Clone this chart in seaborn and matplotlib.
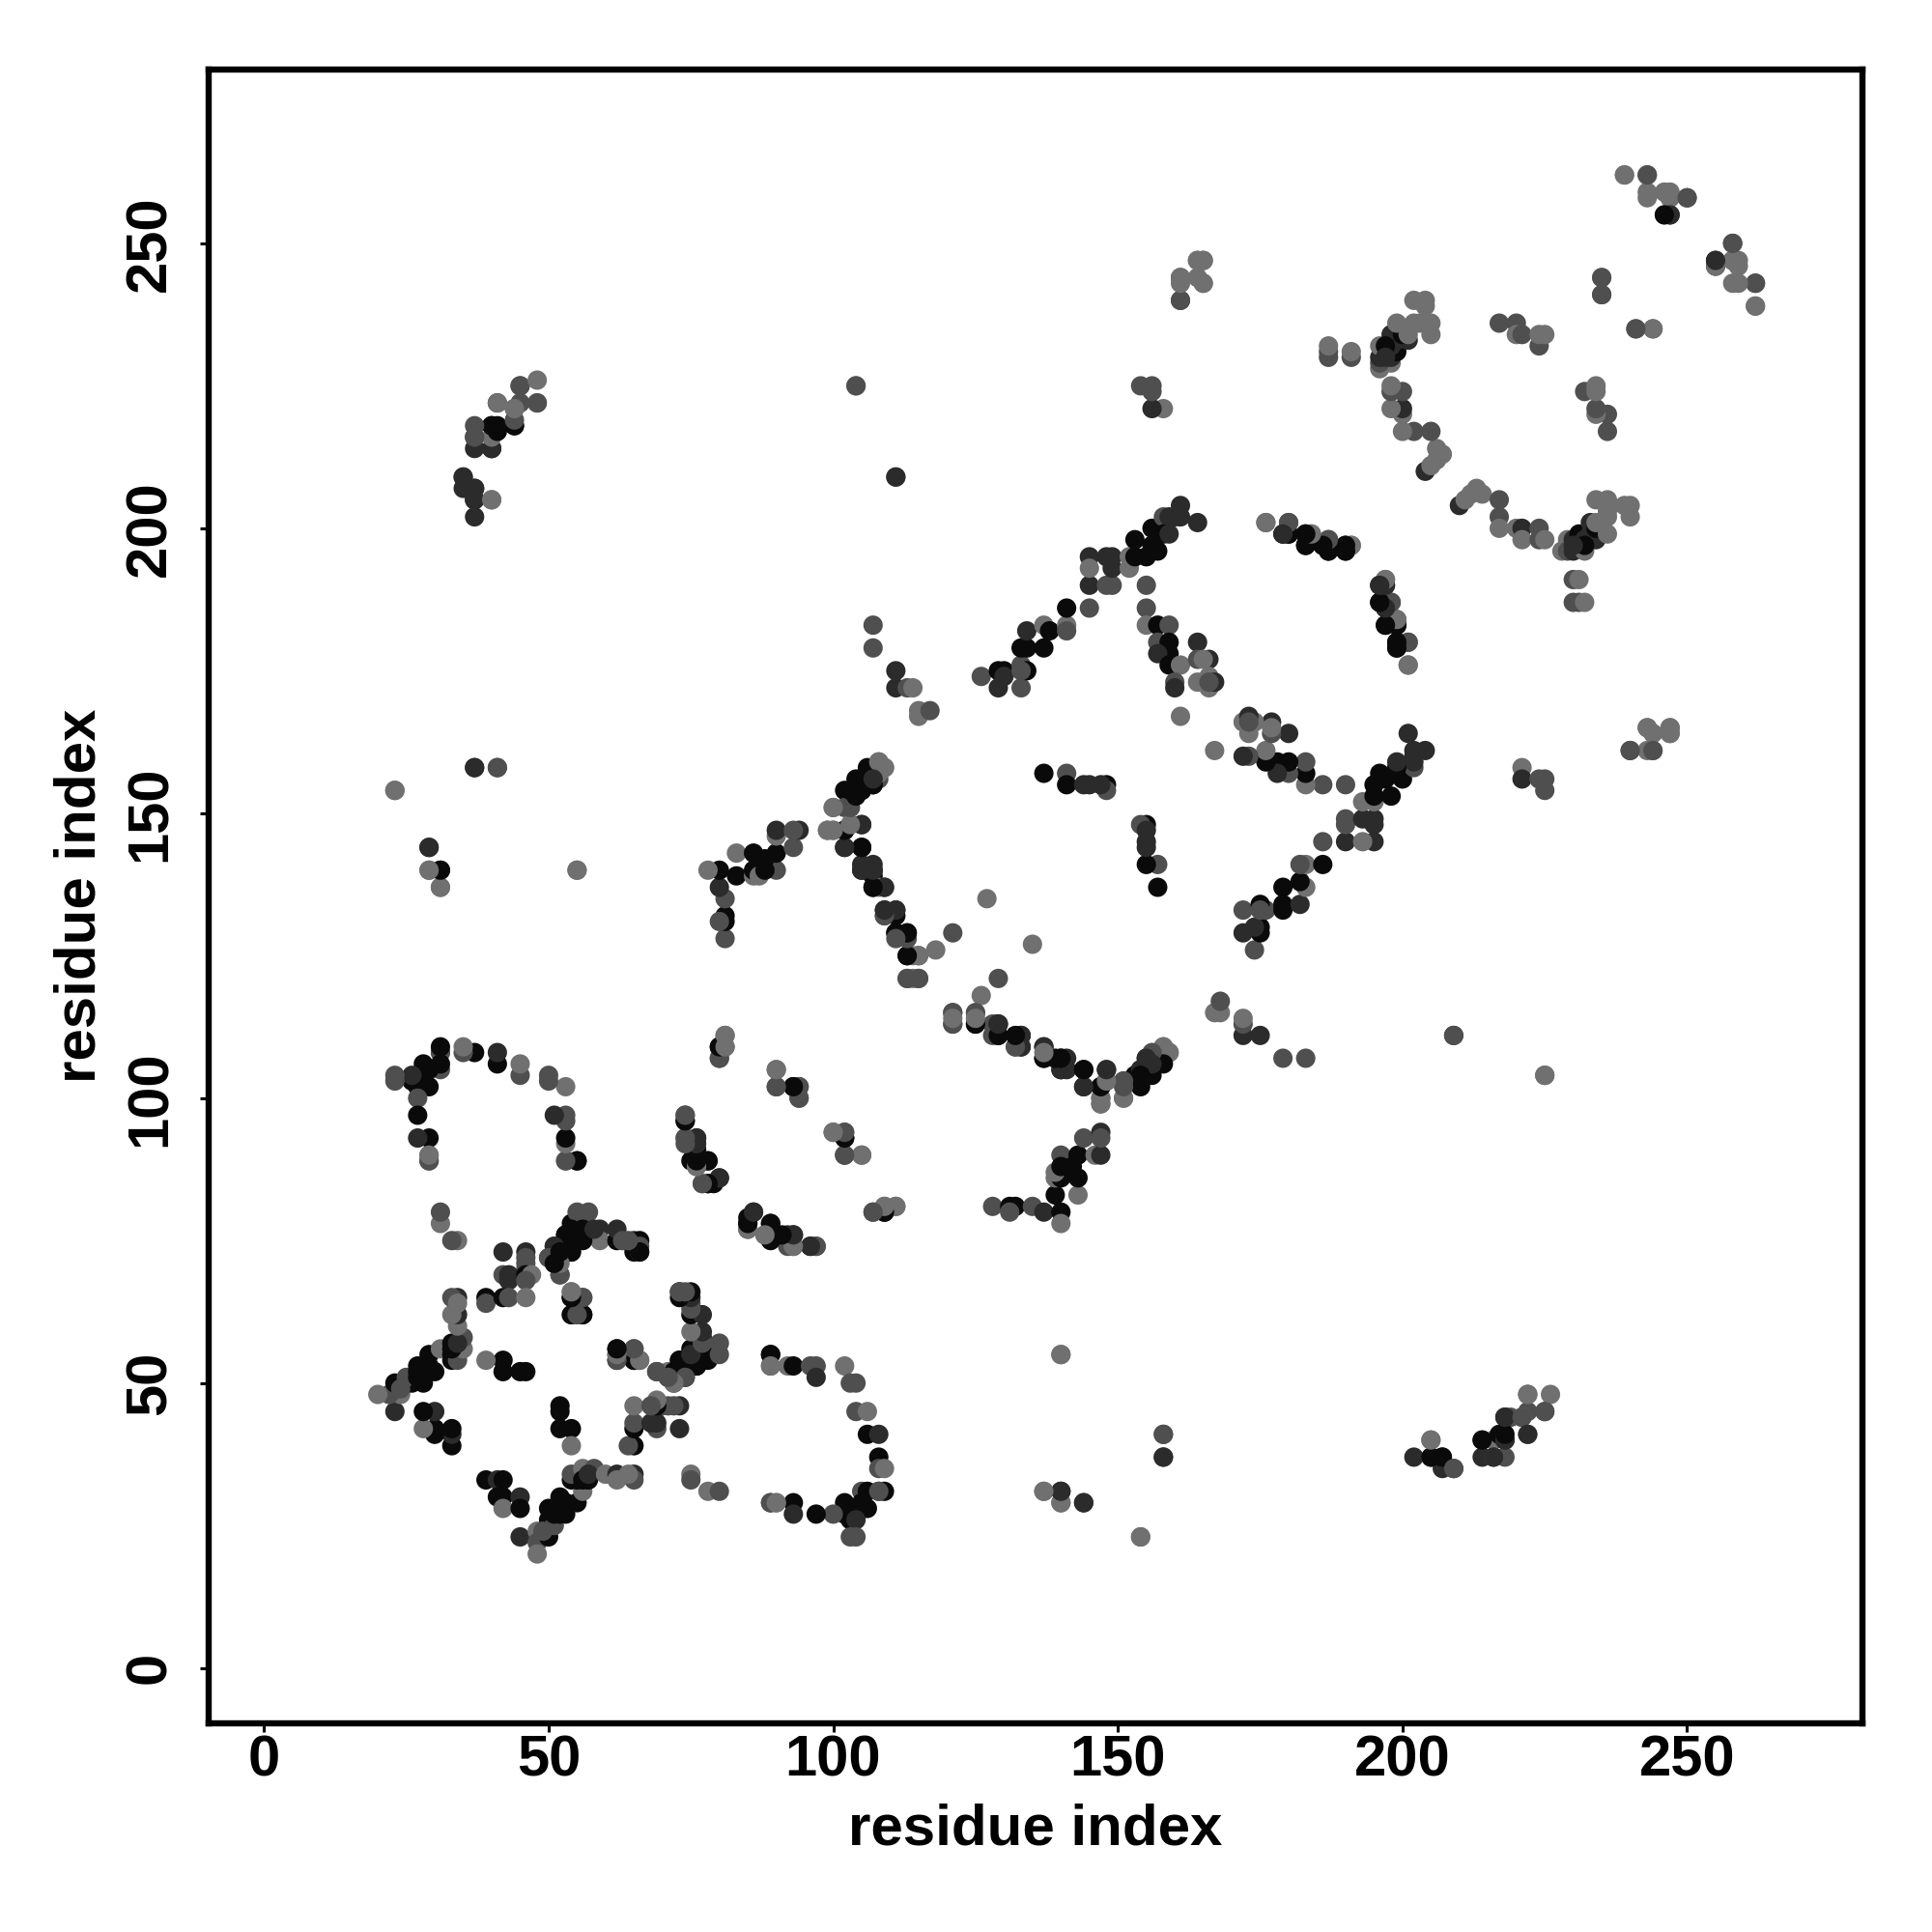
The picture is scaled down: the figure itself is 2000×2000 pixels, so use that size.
import matplotlib
matplotlib.use("Agg")
import matplotlib.pyplot as plt
import pandas as pd
import seaborn as sns

k, d, m, g = "black", "dark", "mid", "light"
shade_colors = {k: "#0a0a0a", d: "#2b2b2b", m: "#4f4f4f", g: "#707070"}

# contacts (residue a, residue b, shade); the map is symmetric
near_bottom = [(39,33,k),(41,33,d),(42,33,k),(41,30,k),(42,30,k),(42,28,g),(45,30,d),(45,28,k),(45,23,d),
 (48,24,g),(48,22,m),(48,20,g),(50,28,k),(50,26,k),(50,23,k),(49,24,m),(51,25,m),(52,30,k),(53,27,k),(52,27,k),
 (51,27,k),(53,29,k),(54,33,k),(55,29,k),(56,31,g),(55,33,k),(54,34,m),(57,33,k),(56,35,g),(58,35,m),(56,33,k),
 (57,34,d),(60,34,g),(62,34,d),(62,33,g),(65,34,d),(65,33,m),(64,34,g)]
near_mid = [(52,42,k),(52,45,k),(52,46,k),(54,42,k),(54,39,g),(65,39,k),(64,39,m),(65,42,k),(65,43,m),(65,46,g),
 (54,65,k),(54,66,g),(56,65,m),(54,62,m),(55,62,g),(56,62,k),(62,56,k),(62,54,k),(62,55,m),(65,56,m),(65,54,k),(66,54,g),
 (42,73,d),(46,73,d),(46,72,m),(46,71,m),(46,70,m),(42,69,m),(43,69,d),(43,68,d),(46,69,k),(47,69,g),(46,68,m)]
cluster_upper = [(54,78,k),(56,78,k),(53,76,k),(54,75,k),(55,76,k),(52,74,k),(54,73,k),(52,72,k),(51,73,k),(54,74,k),(53,74,k),
 (55,75,d),(55,80,m),(57,80,m),(57,77,m),(59,77,d),(59,75,g),(62,75,k),(62,77,d),(63,75,m),
 (65,75,d),(66,75,k),(65,73,k),(66,73,m),(66,74,m),(51,74,m),(50,72,g),(51,71,m),(52,69,m)]
cluster_right = [(73,66,k),(75,64,m),(75,56,k),(73,54,k),(75,54,k),(76,53,k),(74,53,k),(72,52,k),(74,51,d),(69,52,m),
 (71,52,g),(72,50,m),(71,51,k),(73,52,k),(76,55,k),(77,56,k),(77,54,k),(77,58,d)]
arc_89 = [(89,55,k),(89,53,m),(92,53,g),(93,53,k),(96,53,m),(97,53,m),(97,51,d),(102,53,g),(103,50,m),(104,50,m),
 (104,45,m),(106,45,g),(106,41,k),(108,41,d),(108,37,k),(108,35,m),(109,35,g),(108,31,m),(109,31,k),(105,31,m),
 (106,31,k),(102,29,k),(105,29,k),(106,28,k),(102,27,k),(103,26,k),(104,28,k),(104,26,d),(100,27,m),(97,27,k),
 (93,29,k),(93,27,d),(89,29,m),(90,29,g),(103,23,m),(104,23,m),(75,34,g),(75,33,m),(78,31,g),(80,31,m),
 (29,89,m),(29,90,g),(55,89,k),(53,89,g)]
arc_74 = [(74,97,m),(74,96,d),(74,93,g),(76,93,d),(76,91,k),(75,89,k),(78,89,k),(76,88,g),(77,85,g),(78,85,k),(79,85,k),
 (80,86,d),(86,80,d),(85,78,k),(85,77,m),(89,78,k),(88,76,g),(89,76,k),(92,76,d),(93,76,d),(92,74,m),(93,74,m),(96,74,k),
 (97,74,m),(107,80,m),(109,80,k),(109,81,g),(111,81,g),(81,111,g),(80,109,k),(81,109,g),(80,107,m),(90,105,g),(90,102,m),
 (93,102,k),(94,102,m),(94,100,g),(100,94,m),(102,94,m),(102,93,k),(102,90,m),(105,90,g)]
band_128 = [(128,81,m),(131,81,k),(132,81,k),(131,80,m),(135,81,m),(137,80,d),(140,80,k),(140,78,g),(139,83,k),(143,83,g),
 (139,86,g),(140,86,k),(143,86,k),(140,90,m),(143,90,k),(146,90,g),(147,90,d),(144,93,m),(147,94,d),(147,93,m),(139,87,g),
 (140,88,k),(142,88,k)]
band_121 = [(121,115,m),(121,113,m),(125,115,g),(125,113,k),(126,118,g),(129,121,m),(128,113,m),(129,113,k),(129,111,k),(133,111,d),
 (132,109,m),(133,109,d),(137,109,d),(137,107,k),(140,107,d),(141,107,d),(140,105,d),(141,105,d),(144,105,k),(148,105,d),
 (144,102,d),(147,102,k),(148,103,g),(147,100,g),(147,99,g),(151,103,m),(151,100,g),(154,105,k),(154,103,k),(153,104,k),
 (155,107,k),(156,105,k),(157,108,g),(158,107,k),(158,109,g),(159,108,g),(156,107,d),(113,125,k),(115,125,m),(114,125,g),
 (113,121,m),(115,121,m),(114,121,g),(135,127,g),(128,111,m)]
isolated = [(140,55,g),(158,41,m),(158,37,d),(137,31,g),(140,31,k),(140,29,g),(144,29,d),(154,23,g),(104,225,g),(111,209,m),
 (209,111,d),(225,104,m),(157,137,k),(157,141,m),(155,141,k),(155,144,d),(155,145,d),(155,148,k),(154,148,m),(155,147,d)]
arc_202 = [(202,37,d),(205,37,d),(205,40,g),(207,37,d),(207,35,d),(209,35,d),(214,37,d),(214,40,d),(216,40,g),(216,37,m),
 (218,40,k),(218,44,k),(219,44,m),(222,48,m),(222,41,g),(222,45,m),(225,45,m),(226,48,g),(218,37,m),(221,44,g),(217,41,k),
 (37,205,k),(37,207,k),(37,216,d),(40,214,k),(40,218,d),(41,218,k),(44,218,d),(44,221,m),(41,222,d),(45,225,m),(48,222,g),(40,205,g),(35,209,m)]
band_upper = [(107,183,m),(107,179,m),(111,175,d),(111,172,d),(113,172,m),(114,172,g),(115,168,g),(115,167,g),(117,168,m),
 (126,174,m),(129,175,k),(129,172,d),(130,175,k),(130,174,d),(133,176,m),(133,172,m),(134,175,k),(133,175,m),(133,179,k),
 (134,179,k),(134,182,d),(137,179,k),(137,183,g),(138,182,k),(141,183,g),(141,182,m),(141,186,k),(145,186,m),(145,190,d),
 (148,190,m),(149,190,m),(145,195,d),(145,193,g),(148,195,d),(149,195,d),(149,193,d),(152,195,g),(152,193,g),(153,198,k),
 (155,195,k),(153,195,k),(156,200,k),(156,197,k),(157,196,k),(158,202,m),(159,202,d),(158,199,k),(160,202,d),(161,204,d),
 (161,202,d),(164,201,d),(159,199,d)]
band_155 = [(155,190,m),(155,186,m),(155,183,g),(157,183,k),(159,183,m),(157,180,m),(159,180,k),(159,178,k),(157,178,d),(159,176,k),
 (161,176,g),(160,173,m),(160,172,d),(161,167,g),(164,180,d),(164,177,m),(166,177,d),(165,177,g),(164,173,g),(166,174,g),
 (166,172,g),(167,173,d),(166,173,m),(161,240,m),(161,244,m),(164,247,g),(165,247,g),(165,243,g)]
arc_105 = [(108,159,g),(109,158,g),(106,158,k),(108,156,m),(104,156,k),(106,156,d),(107,155,d),(102,154,k),(105,154,d),(104,154,k),
 (103,151,m),(100,151,g),(102,151,m),(99,147,g),(100,147,g),(102,147,k),(103,148,g),(105,148,d),(102,144,d),(105,144,k),
 (105,140,d),(107,140,k),(107,139,k),(107,137,k),(109,137,d),(108,137,g),(109,133,d),(111,133,d),(109,132,m),(111,132,k),
 (111,129,k),(113,129,d)]
contacts_far = [(23,154,g),(29,144,d),(29,140,g),(31,140,d),(31,137,g),(37,158,d),(41,158,m),(55,140,g),(31,108,m)]
arc_176 = [(176,201,g),(180,201,m),(179,199,k),(180,199,k),(183,199,k),(184,199,g),(183,197,k),(187,198,m),(186,197,d),(187,196,k),
 (190,197,d),(191,197,g),(190,196,d),(197,191,g),(196,190,k),(197,190,k),(196,187,k),(198,187,m),(197,186,k),(197,183,k),
 (199,184,g),(199,183,k),(199,180,k),(201,180,m),(199,179,d),(201,176,g)]
arc_210 = [(210,204,d),(211,205,g),(213,207,g),(214,206,g),(212,206,g),(217,205,m),(217,202,m),(217,200,g),(220,200,g),(221,200,d),
 (221,198,g),(224,200,m),(224,198,m),(225,198,g),(228,196,g),(229,198,g),(229,196,m),(230,196,d),(232,196,g),(230,198,d),
 (231,199,k),(232,198,d),(233,201,d),(234,198,d),(233,199,d),(234,200,k),(232,197,k),(230,197,d),(234,201,g),(236,199,g),(236,205,g),
 (236,203,g),(234,205,g),(236,202,g),(239,204,g),(240,204,g),(240,202,g),(230,191,m),(231,191,g),(230,187,m),(231,187,m),(232,187,g)]
far_right = [(243,165,g),(244,164,g),(247,165,g),(247,164,g),(240,161,m),(243,161,g),(244,161,g),(221,158,g),(221,156,d),
 (224,156,m),(225,156,m),(225,154,m),(262,239,g),(262,243,m),(258,243,g),(258,247,g),(259,247,g),(258,250,m),(255,247,d),(255,246,k),
 (239,262,g),(243,262,m),(243,259,g),(246,259,g),(247,258,g),(250,258,m),(246,255,g),(247,255,d),(235,244,g),(235,241,m),(241,235,m),
 (244,235,m),(217,236,m),(220,236,m),(220,234,g),(221,234,m),(224,232,m),(224,234,g),(225,234,g)]

all_contacts = (near_bottom + near_mid + cluster_upper + cluster_right + arc_89 + arc_74 + band_128 + band_121 + isolated
                + arc_202 + band_upper + band_155 + arc_105 + contacts_far + arc_176 + arc_210 + far_right)

df = pd.DataFrame(all_contacts, columns=["a", "b", "shade"])
plot_df = pd.concat([df.rename(columns={"a": "x", "b": "y"}),
                     df.rename(columns={"a": "y", "b": "x"})], ignore_index=True)

sns.set_theme(style="white")
plt.rcParams["font.family"] = ["Liberation Sans", "DejaVu Sans"]
fig = plt.figure(figsize=(10, 10), dpi=200)
ax = fig.add_axes([0.1079, 0.1082, 0.964 - 0.1079, 0.964 - 0.1082])
sns.scatterplot(data=plot_df, x="x", y="y", hue="shade", palette=shade_colors, s=52, linewidth=0,
                legend=False, ax=ax, zorder=3)
ax.set_xlim(-9.75, 280.8)
ax.set_ylim(-9.65, 280.5)
ticks = [0, 50, 100, 150, 200, 250]
ax.set_xticks(ticks)
ax.set_yticks(ticks)
ax.set_xticklabels([str(t) for t in ticks], fontsize=21.5, fontweight="bold", color="black")
ax.set_yticklabels([str(t) for t in ticks], fontsize=21.5, fontweight="bold", rotation=90, va="center", color="black")
ax.tick_params(axis="x", length=3.2, width=1.1, color="black", pad=1, bottom=True)
ax.tick_params(axis="y", length=3.2, width=1.1, color="black", pad=8.5, left=True)
ax.set_xlabel("residue index", fontsize=21.6, fontweight="bold", labelpad=5.8, color="black")
ax.set_ylabel("residue index", fontsize=21.6, fontweight="bold", labelpad=6.4, color="black")
for s in ax.spines.values():
    s.set_visible(True)
    s.set_color("black")
    s.set_linewidth(2.3)
fig.savefig("out.png", dpi=200, facecolor="white")
